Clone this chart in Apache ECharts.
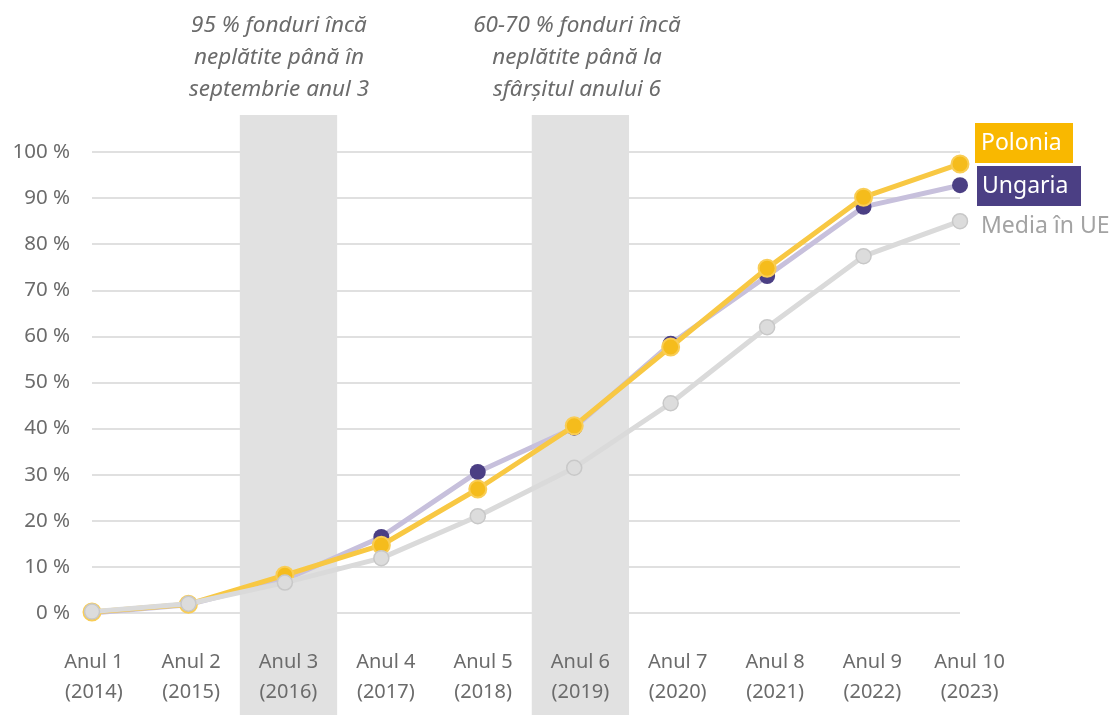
<!DOCTYPE html>
<html>
<head>
<meta charset="utf-8">
<script src="https://cdn.jsdelivr.net/npm/echarts@6/dist/echarts.min.js"></script>
<style>
  html, body { margin: 0; padding: 0; background: #ffffff; }
  #chart { width: 1113px; height: 715px; }
</style>
</head>
<body>
<div id="chart"></div>
<script>
// Share of cohesion funds paid out, cumulative, by programme year
const categories = ['Anul 1\n(2014)', 'Anul 2\n(2015)', 'Anul 3\n(2016)', 'Anul 4\n(2017)', 'Anul 5\n(2018)',
                    'Anul 6\n(2019)', 'Anul 7\n(2020)', 'Anul 8\n(2021)', 'Anul 9\n(2022)', 'Anul 10\n(2023)'];
const polonia = [0.2, 1.9, 8.2, 14.7, 26.9, 40.6, 57.7, 74.8, 90.2, 97.4];
const ungaria = [0.0, 1.8, 7.2, 16.5, 30.6, 40.2, 58.4, 73.1, 88.1, 92.8];
const mediaUE = [0.3, 2.0, 6.6, 11.9, 21.0, 31.5, 45.5, 62.0, 77.4, 85.0];
// highlighted years (Anul 3 and Anul 6)
const bands = [0, 0, 1, 0, 0, 1, 0, 0, 0, 0];
const yTicks = { min: 0, max: 100, interval: 10 };
const notes = [
  '95 % fonduri încă\nneplătite până în\nseptembrie anul 3',
  '60-70 % fonduri încă\nneplătite până la\nsfârșitul anului 6'
];
const seriesNames = ['Polonia', 'Ungaria', 'Media în UE'];

const FONT = '"Noto Sans", "Open Sans", sans-serif';
const TXT = '#6b6b6b';

const chart = echarts.init(document.getElementById('chart'), null, { renderer: 'canvas' });

chart.setOption({
  animation: false,
  backgroundColor: '#ffffff',
  textStyle: { fontFamily: FONT },
  grid: [
    { left: 92, right: 153, top: 152, bottom: 102 },
    { left: 45.2, right: 94.7, top: 115, bottom: 0 }
  ],
  xAxis: [
    {
      type: 'category', gridIndex: 0, data: categories, boundaryGap: false,
      axisLine: { show: false }, axisTick: { show: false }, axisLabel: { show: false },
      splitLine: { show: false }
    },
    {
      type: 'category', gridIndex: 1, data: categories, boundaryGap: true,
      position: 'bottom', offset: -102, z: 10,
      axisLine: { show: false }, axisTick: { show: false },
      axisLabel: {
        color: TXT, fontSize: 20, fontFamily: FONT, lineHeight: 30, margin: 34,
        interval: 0
      },
      splitLine: { show: false }
    }
  ],
  yAxis: [
    {
      type: 'value', gridIndex: 0, min: yTicks.min, max: yTicks.max, interval: yTicks.interval,
      z: 0,
      axisLine: { show: false }, axisTick: { show: false },
      axisLabel: { formatter: '{value} %', color: TXT, fontSize: 20.5, fontFamily: FONT, margin: 22 },
      splitLine: { lineStyle: { color: '#e0e0e0', width: 2 } }
    },
    {
      type: 'value', gridIndex: 1, min: 0, max: 1, show: false
    }
  ],
  series: [
    {
      name: 'bands', type: 'bar', xAxisIndex: 1, yAxisIndex: 1, data: bands,
      barWidth: '100%', barGap: '0%', itemStyle: { color: '#e1e1e1' },
      silent: true, z: 1
    },
    {
      name: seriesNames[1], type: 'line', xAxisIndex: 0, yAxisIndex: 0, data: ungaria,
      symbol: 'circle', symbolSize: 16, z: 3,
      lineStyle: { color: '#c7c0dc', width: 5 },
      itemStyle: { color: '#4b3f84', borderColor: '#4b3f84', borderWidth: 0 }
    },
    {
      name: seriesNames[0], type: 'line', xAxisIndex: 0, yAxisIndex: 0, data: polonia,
      symbol: 'circle', symbolSize: 17, z: 4,
      lineStyle: { color: '#f8c843', width: 5 },
      itemStyle: { color: '#f5bc1c', borderColor: '#f9cd55', borderWidth: 2 }
    },
    {
      name: seriesNames[2], type: 'line', xAxisIndex: 0, yAxisIndex: 0, data: mediaUE,
      symbol: 'circle', symbolSize: 15, z: 5,
      lineStyle: { color: '#dadada', width: 5 },
      itemStyle: { color: '#dcdcdc', borderColor: '#c8c8c8', borderWidth: 1.5 }
    }
  ],
  graphic: [
    // annotations above the highlighted years
    {
      type: 'text', x: 279, y: 10, silent: true,
      style: {
        text: notes[0], fill: TXT, font: 'italic 22.5px ' + FONT,
        textAlign: 'center', lineHeight: 32
      }
    },
    {
      type: 'text', x: 577, y: 10, silent: true,
      style: {
        text: notes[1], fill: TXT, font: 'italic 22.5px ' + FONT,
        textAlign: 'center', lineHeight: 32
      }
    },
    // series labels at the right end
    {
      type: 'group', x: 975, y: 123, silent: true,
      children: [
        { type: 'rect', shape: { x: 0, y: 0, width: 98, height: 40 }, style: { fill: '#f9b800' } },
        { type: 'text', x: 6, y: 20, style: { text: seriesNames[0], fill: '#ffffff', font: '23px ' + FONT, textVerticalAlign: 'middle' } }
      ]
    },
    {
      type: 'group', x: 977, y: 166, silent: true,
      children: [
        { type: 'rect', shape: { x: 0, y: 0, width: 104, height: 40 }, style: { fill: '#4b3f84' } },
        { type: 'text', x: 5, y: 20, style: { text: seriesNames[1], fill: '#ffffff', font: '23px ' + FONT, textVerticalAlign: 'middle' } }
      ]
    },
    {
      type: 'text', x: 981, y: 226, silent: true,
      style: { text: seriesNames[2], fill: '#a3a3a3', font: '23px ' + FONT, textVerticalAlign: 'middle' }
    }
  ]
});
</script>
</body>
</html>
